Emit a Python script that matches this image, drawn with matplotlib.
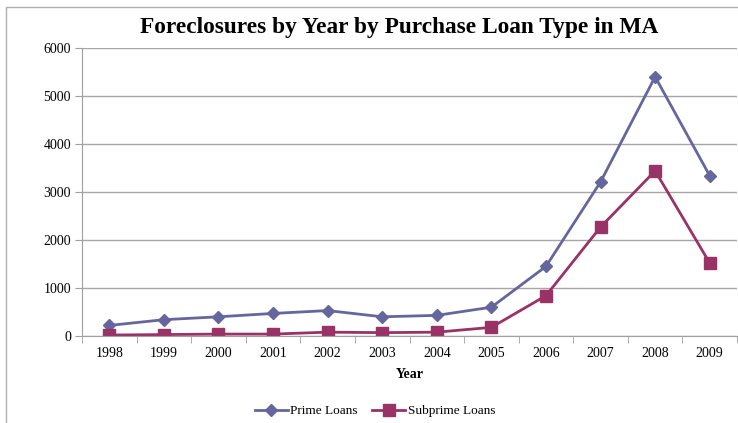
import matplotlib.pyplot as plt
from matplotlib.patches import Rectangle

years = ['1998', '1999', '2000', '2001', '2002', '2003',
         '2004', '2005', '2006', '2007', '2008', '2009']
prime = [220, 340, 400, 470, 530, 400, 430, 600, 1450, 3210, 5400, 3340]
subprime = [20, 30, 40, 40, 80, 70, 80, 180, 840, 2270, 3440, 1520]

plt.rcParams['font.family'] = ['Liberation Serif', 'DejaVu Serif']

fig = plt.figure(figsize=(7.38, 4.23), dpi=100)
ax = fig.add_axes([82 / 738, 87 / 423, 655 / 738, 288 / 423])

# outer chart frame
fig.patches.append(Rectangle((6 / 738, -0.1), 1.0, (416 + 42.3) / 423,
                             transform=fig.transFigure, fill=False,
                             edgecolor='#b0b0b0', linewidth=1.0))

x = list(range(len(years)))
ax.plot(x, prime, color='#66669e', linewidth=2.0, marker='D',
        markersize=6.5, label='Prime Loans')
ax.plot(x, subprime, color='#993366', linewidth=2.0, marker='s',
        markersize=8.5, label='Subprime Loans')

ax.set_xlim(-0.5, len(years) - 0.5)
ax.set_ylim(0, 6000)
ax.set_yticks(range(0, 6001, 1000))
ax.set_xticks(x)
ax.set_xticklabels(years)
ax.set_xticks([i - 0.5 for i in range(len(years) + 1)], minor=True)
ax.tick_params(axis='x', which='major', length=0, pad=8, labelsize=10)
ax.tick_params(axis='x', which='minor', length=5, color='#a0a0a0')
ax.tick_params(axis='y', length=5, color='#a0a0a0', labelsize=10, pad=3)

ax.grid(axis='y', color='#a6a6a6', linewidth=1.0)
ax.set_axisbelow(True)
for side in ['top', 'right']:
    ax.spines[side].set_visible(False)
for side in ['left', 'bottom']:
    ax.spines[side].set_color('#a0a0a0')

ax.set_xlabel('Year', fontweight='bold', fontsize=10, labelpad=6)
fig.text(399 / 738, 1 - 27 / 423, 'Foreclosures by Year by Purchase Loan Type in MA',
         ha='center', va='center', fontsize=16.8, fontweight='bold')

fig.legend(loc='center', bbox_to_anchor=(375 / 738, 1 - 411 / 423), ncol=2,
           frameon=False, fontsize=9.5, handlelength=2.5, handletextpad=0.2,
           columnspacing=1.1)

fig.savefig('out.png', dpi=100)
